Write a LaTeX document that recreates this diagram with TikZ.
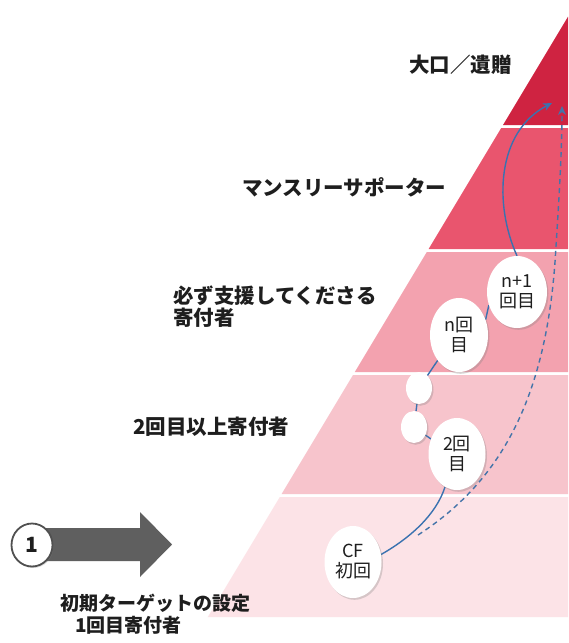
\documentclass[tikz,border=0pt]{standalone}
\usepackage{fontspec}
\setmainfont{Noto Sans CJK JP}
\usetikzlibrary{shadows,arrows.meta,shapes.geometric}
\definecolor{bandA}{HTML}{CF2341}
\definecolor{bandB}{HTML}{E9556E}
\definecolor{bandC}{HTML}{F3A2AF}
\definecolor{bandD}{HTML}{F7C4CC}
\definecolor{bandE}{HTML}{FCE3E7}
\definecolor{lineblue}{HTML}{3A72B0}
\definecolor{arrowgray}{HTML}{5F5F5F}
\definecolor{ringgray}{HTML}{505050}
\definecolor{inktext}{HTML}{1E1E1E}
\pgfdeclarelayer{bg}
\pgfdeclarelayer{conn}
\pgfsetlayers{bg,conn,main}
\tikzset{
  bandlabel/.style={anchor=west, inner sep=0pt, font=\fontsize{20.5}{22}\selectfont\bfseries, align=left, text=inktext},
  bottomlabel/.style={anchor=west, inner sep=0pt, font=\fontsize{19}{22}\selectfont\bfseries, text=inktext},
  stepellipse/.style={ellipse, fill=white, inner sep=0pt, align=center, text=inktext,
    font=\fontsize{18}{20}\selectfont,
    drop shadow={opacity=0.3, shadow xshift=1.5pt, shadow yshift=-1.8pt}},
  solidlink/.style={draw=lineblue, line width=1.4pt},
  dashlink/.style={draw=lineblue!85!gray, line width=1.4pt, dash pattern=on 5pt off 4pt},
  tipstyle/.style={-{Stealth[length=9pt,width=8pt]}}
}
\begin{document}
\begin{tikzpicture}[x=1pt,y=-1pt]
\useasboundingbox (0,0) rectangle (568,643);
% left edge x(y) = 503 - 0.6*(y-125)
\begin{pgfonlayer}{bg}
\fill[white] (0,0) rectangle (568,643);
\fill[bandA] (568,16.7) -- (503,125) -- (568,125) -- cycle;
\fill[bandB] ({503-0.6*3},128) -- (568,128) -- (568,249) -- ({503-0.6*124},249) -- cycle;
\fill[bandC] ({503-0.6*127},252) -- (568,252) -- (568,372) -- ({503-0.6*247},372) -- cycle;
\fill[bandD] ({503-0.6*250},375) -- (568,375) -- (568,494) -- ({503-0.6*369},494) -- cycle;
\fill[bandE] ({503-0.6*372},497) -- (568,497) -- (568,617) -- ({503-0.6*492},617) -- cycle;
% big gray arrow
\fill[arrowgray] (40,528) -- (140,528) -- (140,512) -- (172,544.5) -- (140,577) -- (140,561) -- (40,561) -- cycle;
\end{pgfonlayer}

% labels
\node[bandlabel] (lblA) at (409,65) {大口／遺贈};
\node[bandlabel] (lblB) at (242,187) {マンスリーサポーター};
\node[bandlabel] (lblC) at (173,307) {必ず支援してくださる\\寄付者};
\node[bandlabel] (lblD) at (133,427) {2回目以上寄付者};
\node[bottomlabel] (lblE) at (60,603) {初期ターゲットの設定};
\node[bottomlabel] (lblF) at (75,625) {1回目寄付者};

% numbered circle
\node[ellipse, draw=ringgray, line width=1.8pt, fill=white, minimum width=41pt, minimum height=43pt,
  inner sep=0pt, font=\fontsize{21}{22}\selectfont\bfseries, text=inktext,
  drop shadow={opacity=0.3, shadow xshift=1pt, shadow yshift=-1.5pt}] (one) at (32,545) {1};

% ellipses
\node[stepellipse, minimum width=57pt, minimum height=72pt] (cf) at (353,562) {CF\\初回};
\node[stepellipse, minimum width=57pt, minimum height=72pt] (two) at (457,454) {2回\\目};
\node[stepellipse, minimum width=26pt, minimum height=32pt] (sb) at (414,427) {};
\node[stepellipse, minimum width=26pt, minimum height=32pt] (sa) at (419,388) {};
\node[stepellipse, minimum width=58pt, minimum height=74pt] (nth) at (459,335) {n回\\目};
\node[stepellipse, minimum width=60pt, minimum height=72pt] (nplus) at (517,292) {n+1\\回目};

\coordinate (dashstart) at (418,535);
\coordinate (dashend) at (562,106);
\coordinate (solidend) at (552,103);

\begin{pgfonlayer}{conn}
\draw[solidlink] (cf.15) .. controls (410,538) and (436,515) .. (two.250);
\draw[solidlink] (two.150) -- (sb);
\draw[solidlink] (sb) -- (sa);
\draw[solidlink] (sa) -- (nth.230);
\draw[solidlink] (nth.30) -- (nplus.205);
\draw[solidlink, tipstyle] (nplus.north) .. controls (494,205) and (496,132) .. (solidend);
\draw[dashlink, tipstyle] (dashstart) .. controls (500,482) and (545,400) .. (555,262)
  .. controls (559,200) and (562,150) .. (dashend);
\end{pgfonlayer}
\end{tikzpicture}
\end{document}
